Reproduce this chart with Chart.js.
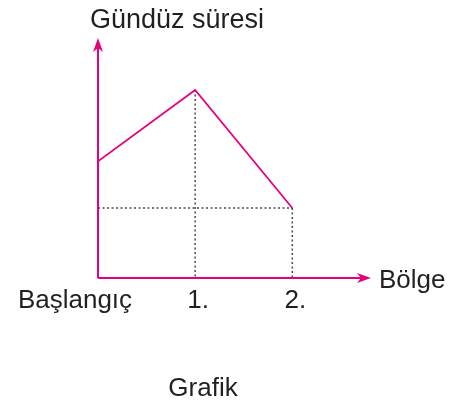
<!DOCTYPE html>
<html>
<head>
<meta charset="utf-8">
<script src="https://cdn.jsdelivr.net/npm/chart.js@4"></script>
<style>
  body { margin: 0; background: #fff; }
  #wrap { width: 454px; height: 406px; }
</style>
</head>
<body>
<div id="wrap"><canvas id="grafik"></canvas></div>
<script>
// regions on the x axis and daytime length (arbitrary units)
const regions = [0, 1, 2];
const tickLabels = ["Başlangıç", "1.", "2."];
const dayLength = [3.1, 5, 1.86];
const yTitle = "Gündüz süresi";
const xTitle = "Bölge";
const caption = "Grafik";

const pink = "#e6007e";
const ink = "#231f20";
const family = "'Liberation Sans', Arial, sans-serif";

function arrowHead(c, x, y, dir) {
  c.beginPath();
  if (dir === "up") {
    c.moveTo(x, y);
    c.lineTo(x - 5, y + 14);
    c.lineTo(x, y + 10);
    c.lineTo(x + 5, y + 14);
  } else {
    c.moveTo(x, y);
    c.lineTo(x - 14, y - 5);
    c.lineTo(x - 10, y);
    c.lineTo(x - 14, y + 5);
  }
  c.closePath();
  c.fill();
}

const sketch = {
  id: "sketch",
  beforeDatasetsDraw(chart) {
    const c = chart.ctx;
    const xs = chart.scales.x, ys = chart.scales.y;
    const x0 = xs.getPixelForValue(0), y0 = ys.getPixelForValue(0);
    c.save();
    // dotted guide lines
    c.strokeStyle = "#4a4a4a";
    c.lineWidth = 1.5;
    c.setLineDash([2, 2.5]);
    for (let i = 1; i < regions.length; i++) {
      const px = xs.getPixelForValue(regions[i]);
      const py = ys.getPixelForValue(dayLength[i]);
      c.beginPath();
      c.moveTo(px, py);
      c.lineTo(px, y0);
      c.stroke();
    }
    const last = regions.length - 1;
    const hy = ys.getPixelForValue(dayLength[last]);
    c.beginPath();
    c.moveTo(x0, hy);
    c.lineTo(xs.getPixelForValue(regions[last]), hy);
    c.stroke();
    c.setLineDash([]);

    // axes with arrows
    c.strokeStyle = pink;
    c.fillStyle = pink;
    c.lineWidth = 2;
    c.beginPath();
    c.moveTo(x0, y0);
    c.lineTo(x0, chart.chartArea.top + 4);
    c.moveTo(x0, y0);
    c.lineTo(chart.chartArea.right - 4, y0);
    c.stroke();
    arrowHead(c, x0, chart.chartArea.top, "up");
    arrowHead(c, chart.chartArea.right + 1, y0, "right");

    // texts
    c.fillStyle = ink;
    c.font = "26px " + family;
    c.textBaseline = "alphabetic";
    c.textAlign = "center";
    tickLabels.forEach((t, i) => {
      const px = i === 0 ? 75 : xs.getPixelForValue(regions[i]) + 3;
      c.fillText(t, px, 308);
    });
    c.textAlign = "left";
    c.fillText(xTitle, 379, y0 + 10);
    c.textAlign = "center";
    c.fillText(caption, 203, 396);
    c.font = "27px " + family;
    c.textAlign = "left";
    c.fillText(yTitle, 90, 28);
    c.restore();
  }
};

new Chart(document.getElementById("grafik"), {
  type: "line",
  data: {
    datasets: [{
      data: regions.map((r, i) => ({ x: r, y: dayLength[i] })),
      borderColor: pink,
      borderWidth: 1.8,
      pointRadius: 0,
      tension: 0,
      fill: false
    }]
  },
  options: {
    responsive: true,
    maintainAspectRatio: false,
    animation: false,
    layout: { padding: { left: 98, right: 84, top: 38, bottom: 128 } },
    scales: {
      x: { type: "linear", min: 0, max: 2.8, display: false },
      y: { min: 0, max: 6.38, display: false }
    },
    plugins: { legend: { display: false }, tooltip: { enabled: false } }
  },
  plugins: [sketch]
});
</script>
</body>
</html>
